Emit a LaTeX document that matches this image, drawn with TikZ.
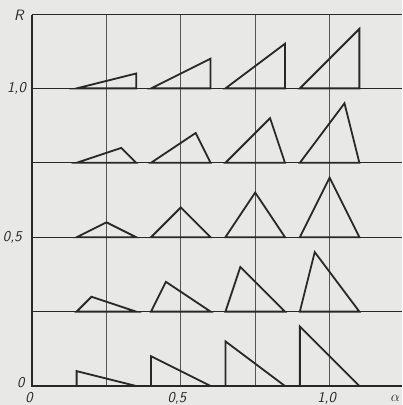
\documentclass[tikz,border=0pt]{standalone}
\definecolor{paper}{RGB}{232,232,230}
\definecolor{ink}{RGB}{40,40,40}
\definecolor{gridink}{RGB}{85,85,85}
\tikzset{
  gridv/.style={draw=gridink, line width=0.8pt},
  gridh/.style={draw=ink, line width=1pt},
  axisline/.style={draw=ink, line width=1.4pt},
  tri/.style={draw=ink, line width=1.8pt, line join=miter},
  lab/.style={font=\fontsize{15}{15}\selectfont\sffamily\slshape, text=ink, inner sep=0pt}
}
\begin{document}
\begin{tikzpicture}[x=297.6pt, y=297.6pt]
\useasboundingbox[fill=paper] (-0.1075,-0.0638) rectangle (1.2433,1.2970);
% grid
\foreach \a in {0.25,0.5,0.75,1.0} \draw[gridv] (\a,0) -- (\a,1.2466);
\foreach \r in {0.25,0.5,0.75,1.0} \draw[gridh] (0,\r) -- (1.2433,\r);
\draw[gridh] (0,1.2466) -- (1.2433,1.2466);
\draw[axisline] (0,1.2466) -- (0,0) -- (1.2433,0);
% triangles
\foreach \a in {0.25,0.5,0.75,1.0} {
  \foreach \r in {0,0.25,0.5,0.75,1.0} {
    \draw[tri] ({\a-0.1},\r) -- ({\a+0.1},\r) -- ({\a-0.1+0.2*\r},{\r+0.2*\a}) -- cycle;
  }
}
% labels
\node[lab] (lR) at (-0.044,1.245) {R};
\node[lab] (l10) at (-0.052,1.0) {1,0};
\node[lab] (l05) at (-0.066,0.5) {0,5};
\node[lab] (l0) at (-0.038,0.01) {0};
\node[lab] (b0) at (-0.01,-0.038) {0};
\node[lab] (b05) at (0.487,-0.040) {0,5};
\node[lab] (b10) at (0.99,-0.040) {1,0};
\node[lab, anchor=west] (balpha) at (1.205,-0.040) {$\alpha$};
\end{tikzpicture}
\end{document}
